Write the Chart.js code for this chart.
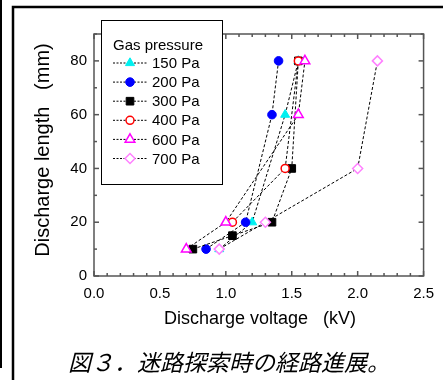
<!DOCTYPE html>
<html>
<head>
<meta charset="utf-8">
<script src="https://cdn.jsdelivr.net/npm/chart.js@4.4.1/dist/chart.umd.min.js"></script>
<style>
  html, body { margin: 0; padding: 0; background: #fff; }
  canvas { display: block; }
</style>
</head>
<body>
<canvas id="c" width="443" height="380"></canvas>
<script>
// dati: tensione di scarica (kV) vs lunghezza (mm)
const seriesNames = ['150 Pa', '200 Pa', '300 Pa', '400 Pa', '600 Pa', '700 Pa'];

const volt150 = [0.95, 1.20, 1.45, 1.55];
const len150  = [10, 20, 60, 80];
const volt200 = [0.85, 1.15, 1.35, 1.40];
const len200  = [10, 20, 60, 80];
const volt300 = [0.75, 1.05, 1.35, 1.50, 1.55];
const len300  = [10, 15, 20, 40, 80];
const volt400 = [1.05, 1.45, 1.55];
const len400  = [20, 40, 80];
const volt600 = [0.70, 1.00, 1.55, 1.60];
const len600  = [10, 20, 60, 80];
const volt700 = [0.95, 1.30, 2.00, 2.15];
const len700  = [10, 20, 40, 80];

const xTickLabels = [0.0, 0.5, 1.0, 1.5, 2.0, 2.5];
const yTickLabels = [0, 20, 40, 60, 80];

const FONT = 'Arial, "Liberation Sans", sans-serif';

const toPts = (xs, ys) => xs.map((v, i) => ({ x: v, y: ys[i] }));

// stile marker per serie (stesso ordine di seriesNames)
const markers = [
  { style: 'triangle', r: 5.2, fill: '#00f0f0', stroke: '#00f0f0', bw: 1 },
  { style: 'circle',   r: 4.3, fill: '#0000ff', stroke: '#0000ff', bw: 1 },
  { style: 'rect',     r: 5.4, fill: '#000000', stroke: '#000000', bw: 1 },
  { style: 'circle',   r: 4.0, fill: '#ffffff', stroke: '#ff0000', bw: 1.5 },
  { style: 'triangle', r: 5.6, fill: '#ffffff', stroke: '#ff00ff', bw: 1.5 },
  { style: 'rectRot',  r: 5.0, fill: '#ffffff', stroke: '#ff80ff', bw: 1.5 }
];

const allData = [
  toPts(volt150, len150), toPts(volt200, len200), toPts(volt300, len300),
  toPts(volt400, len400), toPts(volt600, len600), toPts(volt700, len700)
];

const datasets = allData.map((d, i) => ({
  label: seriesNames[i],
  data: d,
  showLine: true,
  borderColor: '#000',
  borderWidth: 1,
  borderDash: [3, 2],
  pointStyle: markers[i].style,
  pointRadius: markers[i].r,
  pointBackgroundColor: markers[i].fill,
  pointBorderColor: markers[i].stroke,
  pointBorderWidth: markers[i].bw,
  order: 6 - i            // 700 Pa sopra a tutti
}));

function line(ctx, x1, y1, x2, y2) {
  ctx.beginPath(); ctx.moveTo(x1, y1); ctx.lineTo(x2, y2); ctx.stroke();
}

// cornice, tick interni, legenda, titoli assi e didascalia
const decor = {
  id: 'decor',
  afterDraw(chart) {
    const { ctx, chartArea: a, scales: { x, y } } = chart;
    ctx.save();

    ctx.strokeStyle = '#555';
    ctx.lineWidth = 1.5;
    ctx.strokeRect(a.left, a.top, a.right - a.left, a.bottom - a.top);
    for (let k = 0; k <= 25; k++) {
      const px = x.getPixelForValue(k / 10);
      const len = k % 5 === 0 ? 5 : 3;
      line(ctx, px, a.bottom, px, a.bottom - len);
      line(ctx, px, a.top, px, a.top + len);
    }
    for (let k = 0; k <= 9; k++) {
      const py = y.getPixelForValue(k * 10);
      const len = k % 2 === 0 ? 5 : 3;
      line(ctx, a.left, py, a.left + len, py);
      line(ctx, a.right, py, a.right - len, py);
    }

    // legenda
    const bx = 101, by = 20, bw = 121, bh = 164;
    ctx.fillStyle = '#fff';
    ctx.fillRect(bx, by, bw, bh);
    ctx.strokeStyle = '#000';
    ctx.lineWidth = 1;
    ctx.strokeRect(bx + 0.5, by + 0.5, bw, bh);
    ctx.fillStyle = '#000';
    ctx.font = '15px ' + FONT;
    ctx.textBaseline = 'middle';
    ctx.textAlign = 'left';
    ctx.fillText('Gas pressure', 113, 46);
    seriesNames.forEach((name, i) => {
      const ly = 63 + i * 19.1;
      ctx.strokeStyle = '#000';
      ctx.lineWidth = 1;
      ctx.setLineDash([2, 1.5]);
      line(ctx, 113, ly, 147, ly);
      ctx.setLineDash([]);
      const m = markers[i];
      ctx.fillStyle = m.fill;
      ctx.strokeStyle = m.stroke;
      ctx.lineWidth = m.bw;
      Chart.helpers.drawPoint(ctx, { pointStyle: m.style, radius: m.r, borderWidth: m.bw, rotation: 0 }, 130, ly);
      ctx.fillStyle = '#000';
      ctx.fillText(name, 152, ly + 1);
    });

    // titoli assi
    ctx.font = '18px ' + FONT;
    ctx.textAlign = 'center';
    ctx.fillText('Discharge voltage   (kV)', 260, 319);
    ctx.save();
    ctx.translate(43, 150);
    ctx.rotate(-Math.PI / 2);
    ctx.font = '20px ' + FONT;
    ctx.fillText('Discharge length   (mm)', 0, 0);
    ctx.restore();

    // didascalia
    ctx.font = 'italic 23px "Noto Sans CJK JP", sans-serif';
    ctx.fillText('図３．迷路探索時の経路進展。', 229, 362);

    // bordi esterni della figura
    ctx.strokeStyle = '#000';
    ctx.lineWidth = 2.5;
    ctx.beginPath();
    ctx.moveTo(13, 380); ctx.lineTo(13, 7); ctx.lineTo(443, 7);
    ctx.stroke();
    ctx.lineWidth = 2;
    line(ctx, 1, 0, 1, 368);

    ctx.restore();
  }
};

new Chart(document.getElementById('c'), {
  type: 'scatter',
  data: { datasets },
  options: {
    responsive: false,
    devicePixelRatio: 1,
    animation: false,
    layout: { padding: { top: 34, right: 17, left: 0, bottom: 0 } },
    plugins: { legend: { display: false }, tooltip: { enabled: false } },
    scales: {
      x: {
        type: 'linear', min: 0, max: 2.5,
        grid: { display: false, drawTicks: false },
        border: { display: false },
        afterBuildTicks: s => { s.ticks = xTickLabels.map(v => ({ value: v })); },
        afterFit: s => { s.height = 104; },
        ticks: {
          autoSkip: false, maxRotation: 0, padding: 9, color: '#000',
          font: { size: 15, family: FONT },
          callback: v => Number(v).toFixed(1)
        }
      },
      y: {
        type: 'linear', min: 0, max: 90,
        grid: { display: false, drawTicks: false },
        border: { display: false },
        afterBuildTicks: s => { s.ticks = yTickLabels.map(v => ({ value: v })); },
        afterFit: s => { s.width = 94; },
        ticks: {
          autoSkip: false, padding: 7, color: '#000',
          font: { size: 15, family: FONT }
        }
      }
    }
  },
  plugins: [decor]
});
</script>
</body>
</html>
